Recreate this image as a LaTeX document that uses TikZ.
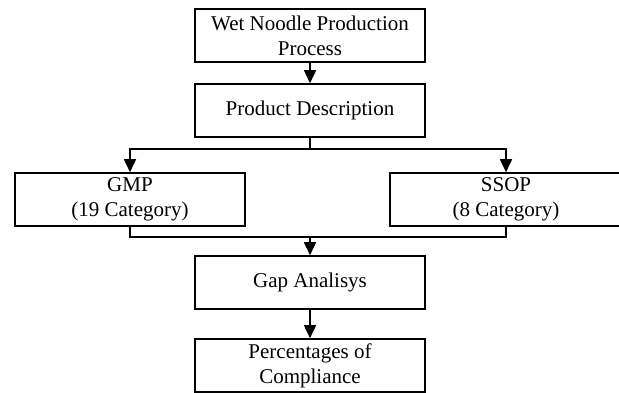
\documentclass[tikz,border=0pt]{standalone}
\usepackage{fontspec}
\setmainfont{Liberation Serif}
\usetikzlibrary{arrows.meta}
\begin{document}
\begin{tikzpicture}[x=0.5pt,y=-0.5pt,
  box/.style={draw,line width=0.8pt,inner sep=0pt,minimum width=115pt,minimum height=26.5pt,
    align=center,font=\fontsize{10.5}{12.5}\selectfont},
  conn/.style={line width=0.8pt},
  arr/.style={conn,-{Triangle[length=6.5pt,width=6pt]}}]
\useasboundingbox (0,0) rectangle (619,392);
\node[box] (wet) at (310,35.5) {Wet Noodle Production\\Process};
\node[box] (desc) at (310,110.5) {Product Description};
\node[box] (gmp) at (130,199.5) {GMP\\(19 Category)};
\node[box,minimum width=116pt] (ssop) at (506,199.5) {SSOP\\(8 Category)};
\node[box] (gap) at (310,282.5) {Gap Analisys};
\node[box] (pct) at (310,365.5) {Percentages of\\Compliance};
\coordinate (split) at (310,149);
\coordinate (merge) at (310,237);
\draw[arr] (wet.south) -- (desc.north);
\draw[conn] (desc.south) -- (split);
\draw[arr] (split) -| (gmp.north);
\draw[arr] (split) -| (ssop.north);
\draw[conn] (gmp.south) |- (merge);
\draw[conn] (ssop.south) |- (merge);
\draw[arr] (merge) -- (gap.north);
\draw[arr] (gap.south) -- (pct.north);
\end{tikzpicture}
\end{document}
